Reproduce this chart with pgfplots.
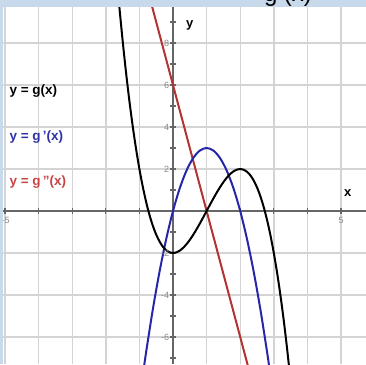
\documentclass[border=0pt]{standalone}
\usepackage{fontspec}
\setmainfont{Liberation Sans}
\usepackage{pgfplots}
\pgfplotsset{compat=1.18}
\definecolor{gridgray}{HTML}{D4D4D4}
\definecolor{axisgray}{HTML}{666666}
\definecolor{curveblue}{HTML}{2626A8}
\definecolor{curvered}{HTML}{B43232}
\definecolor{txtblue}{HTML}{3030A8}
\definecolor{txtred}{HTML}{C84444}
\definecolor{banner}{HTML}{C9D9EC}
\definecolor{ticklbl}{HTML}{888888}

\begin{document}
\begin{tikzpicture}[x=1pt,y=1pt]
\begin{scope}
\clip (0,0) rectangle (366,364);
\begin{axis}[
  at={(0,0)}, anchor=south west,
  scale only axis, width=366pt, height=364pt,
  xmin=-5.149, xmax=5.744, ymin=-7.286, ymax=10.048,
  axis lines=middle,
  axis line style={axisgray, line width=1.3pt, -},
  xtick={-5,...,5}, ytick={-6,-4,...,8},
  minor ytick={-7,-5,...,9},
  xticklabels={}, yticklabels={},
  tick align=center,
  major tick length=6pt, minor tick length=6pt,
  every tick/.style={axisgray, line width=1.1pt},
  xmajorgrids, ymajorgrids,
  major grid style={gridgray, line width=1.4pt},
  clip=true,
]
% y = g''(x)
\addplot[curvered, line width=2pt] coordinates {(-0.8,10.8) (2.4,-8.4)};
% y = g'(x)
\addplot[curveblue, line width=2pt, smooth] coordinates {
 (-1.0,-9) (-0.9,-7.83) (-0.8,-6.72) (-0.6,-4.68) (-0.4,-2.88) (-0.2,-1.32)
 (0,0) (0.2,1.08) (0.4,1.92) (0.6,2.52) (0.8,2.88) (1.0,3) (1.2,2.88)
 (1.4,2.52) (1.6,1.92) (1.8,1.08) (2.0,0) (2.2,-1.32) (2.4,-2.88)
 (2.6,-4.68) (2.8,-6.72) (2.9,-7.83) (3.0,-9)};
% y = g(x)
\addplot[black, line width=2pt, smooth] coordinates {
 (-1.7,11.583) (-1.6,9.776) (-1.5,8.125) (-1.4,6.624) (-1.3,5.267)
 (-1.2,4.048) (-1.1,2.961) (-1.0,2) (-0.9,1.159) (-0.8,0.432)
 (-0.7,-0.187) (-0.6,-0.704) (-0.5,-1.125) (-0.4,-1.456) (-0.3,-1.703)
 (-0.2,-1.872) (-0.1,-1.969) (0,-2) (0.1,-1.971) (0.2,-1.888)
 (0.3,-1.757) (0.4,-1.584) (0.5,-1.375) (0.6,-1.136) (0.7,-0.873)
 (0.8,-0.592) (0.9,-0.299) (1.0,0) (1.1,0.299) (1.2,0.592) (1.3,0.873)
 (1.4,1.136) (1.5,1.375) (1.6,1.584) (1.7,1.757) (1.8,1.888) (1.9,1.971)
 (2.0,2) (2.1,1.969) (2.2,1.872) (2.3,1.703) (2.4,1.456) (2.5,1.125)
 (2.6,0.704) (2.7,0.187) (2.8,-0.432) (2.9,-1.159) (3.0,-2) (3.1,-2.961)
 (3.2,-4.048) (3.3,-5.267) (3.4,-6.624) (3.5,-8.125) (3.6,-9.776)};

% tick numbers
\foreach \v in {8,6,4,2,-2,-4,-6}{
  \edef\tmp{\noexpand\node[anchor=east, text=ticklbl, font=\noexpand\fontsize{9}{9}\noexpand\selectfont, inner sep=1pt] at (axis cs:-0.08,\v) {\v};}
  \tmp
}
\node[anchor=north, text=ticklbl, font=\fontsize{9}{9}\selectfont, inner sep=1pt] at (axis cs:-4.98,-0.22) {-5};
\node[anchor=north, text=ticklbl, font=\fontsize{9}{9}\selectfont, inner sep=1pt] at (axis cs:5,-0.22) {5};

% axis names
\node[font=\fontsize{13}{13}\selectfont\bfseries] at (axis cs:0.5,8.85) {y};
\node[font=\fontsize{13}{13}\selectfont\bfseries] at (axis cs:5.2,0.85) {x};

% curve names
\node[anchor=west, font=\fontsize{13.5}{13.5}\selectfont\bfseries, text=black, inner sep=0pt] at (axis cs:-4.87,5.7) {y = g(x)};
\node[anchor=west, font=\fontsize{13.5}{13.5}\selectfont\bfseries, text=txtblue, inner sep=0pt] at (axis cs:-4.87,3.52) {y = g\,'(x)};
\node[anchor=west, font=\fontsize{13.5}{13.5}\selectfont\bfseries, text=txtred, inner sep=0pt] at (axis cs:-4.87,1.38) {y = g\,''(x)};
\end{axis}
% title strip along the top and the left edge
\fill[banner] (0,357) rectangle (366,364);
\fill[banner] (0,0) rectangle (3,364);
\node[anchor=base, font=\fontsize{24}{24}\selectfont, inner sep=0pt] at (288,362) {g (x)};
\end{scope}
\pgfresetboundingbox
\useasboundingbox (0,0) rectangle (366,364);
\end{tikzpicture}
\end{document}
